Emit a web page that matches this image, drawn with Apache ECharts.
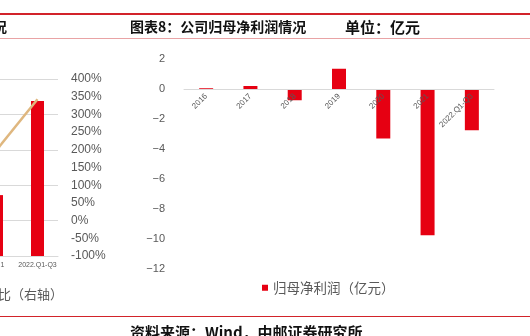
<!DOCTYPE html>
<html><head><meta charset="utf-8">
<script src="https://cdn.jsdelivr.net/npm/echarts@6/dist/echarts.min.js"></script>
<style>html,body{margin:0;padding:0;background:#fff}#c{width:530px;height:336px}</style>
</head><body><div id="c"></div>
<script>
// Left (partially visible) chart
const leftCategories = ['2021', '2022.Q1-Q3'];
const leftBarValues = [8.6, 21.9];
const leftGrowthPct = [199, 343];
// Right chart: 归母净利润（亿元）
const profitCategories = ['2016', '2017', '2018', '2019', '2020', '2021', '2022.Q1-Q3'];
const netProfit = [0.05, 0.2, -0.75, 1.35, -3.3, -9.75, -2.75];

const RED = '#E60012';
const GRAY_TXT = '#595959';
const CJK = '"Noto Sans CJK SC", sans-serif';
const LAT = '"Liberation Sans", Arial, sans-serif';

const chart = echarts.init(document.getElementById('c'), null, {renderer: 'canvas'});
chart.setOption({
  animation: false,
  backgroundColor: '#fff',
  grid: [
    {left: -24, width: 82, top: 79, height: 177, containLabel: false, outerBoundsMode: 'none'},
    {left: 184, width: 310, top: 59, height: 210, containLabel: false, outerBoundsMode: 'none'}
  ],
  xAxis: [
    {gridIndex: 0, type: 'category', data: leftCategories,
     axisLine: {lineStyle: {color: '#D9D9D9'}}, axisTick: {show: false},
     axisLabel: {fontSize: 7, color: GRAY_TXT, fontFamily: LAT, margin: 6, interval: 0}},
    {gridIndex: 1, type: 'category', data: profitCategories, position: 'bottom', offset: -180,
     zlevel: 3, z: 30,
     axisLine: {onZero: false, lineStyle: {color: '#D9D9D9', width: 1}}, axisTick: {show: false},
     axisLabel: {fontSize: 8, color: GRAY_TXT, fontFamily: LAT, rotate: 45, margin: 6, interval: 0,
       hideOverlap: false}}
  ],
  yAxis: [
    {gridIndex: 0, type: 'value', min: 0, max: 25, interval: 5,
     axisLabel: {show: false}, axisLine: {show: false}, axisTick: {show: false},
     splitLine: {lineStyle: {color: '#D9D9D9'}}},
    {gridIndex: 0, type: 'value', position: 'right', min: -100, max: 400, interval: 50,
     axisLabel: {formatter: '{value}%', fontSize: 12, color: GRAY_TXT, fontFamily: LAT, margin: 13},
     axisLine: {show: false}, axisTick: {show: false}, splitLine: {show: false}},
    {gridIndex: 1, type: 'value', min: -12, max: 2, interval: 2,
     axisLabel: {fontSize: 11, color: GRAY_TXT, fontFamily: LAT, margin: 19,
       formatter: v => String(v).replace('-', '\u2212')},
     axisLine: {show: false}, axisTick: {show: false}, splitLine: {show: false}}
  ],
  legend: {
    data: ['归母净利润（亿元）'], left: 257, top: 276, icon: 'rect',
    itemWidth: 6, itemHeight: 6,
    textStyle: {fontSize: 13.5, color: GRAY_TXT, fontFamily: CJK}
  },
  series: [
    {name: '营业收入', type: 'bar', xAxisIndex: 0, yAxisIndex: 0, data: leftBarValues,
     barWidth: 13, itemStyle: {color: RED}},
    {name: '同比（右轴）', type: 'line', xAxisIndex: 0, yAxisIndex: 1, data: leftGrowthPct,
     showSymbol: false, lineStyle: {color: '#DFB77F', width: 2.5}, itemStyle: {color: '#DFB77F'}},
    {name: '归母净利润（亿元）', type: 'bar', xAxisIndex: 1, yAxisIndex: 2, data: netProfit,
     barWidth: 14, zlevel: 0, z: 1, itemStyle: {color: RED}}
  ],
  graphic: [
    {type: 'rect', shape: {x: 0, y: 13, width: 530, height: 2}, style: {fill: '#D2232A'}},
    {type: 'rect', shape: {x: 0, y: 38, width: 530, height: 1}, style: {fill: '#E9A3A5'}},
    {type: 'rect', shape: {x: 0, y: 316, width: 530, height: 1}, style: {fill: '#D2232A'}},
    {type: 'text', x: 7, y: 27, style: {text: '情况', align: 'right', verticalAlign: 'middle',
      font: 'bold 14px ' + CJK, fill: '#111'}},
    {type: 'text', x: 130, y: 27, style: {text: '图表8：公司归母净利润情况', verticalAlign: 'middle',
      font: 'bold 14px ' + CJK, fill: '#111'}},
    {type: 'text', x: 345, y: 27, style: {text: '单位：亿元', verticalAlign: 'middle',
      font: 'bold 15px ' + CJK, fill: '#111'}},
    {type: 'text', x: 63, y: 294, style: {text: '同比（右轴）', align: 'right', verticalAlign: 'middle',
      font: '13px ' + CJK, fill: GRAY_TXT}},
    {type: 'text', x: 130, y: 332, style: {text: '资料来源：Wind，中邮证券研究所', verticalAlign: 'middle',
      font: 'bold 15px ' + CJK, fill: '#111'}}
  ]
});
</script>
</body></html>
